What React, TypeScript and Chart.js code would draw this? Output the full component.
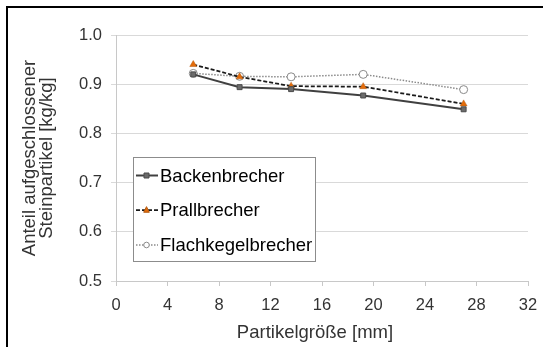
import React, { useEffect, useRef } from "react";
import { Chart, registerables } from "chart.js";

Chart.register(...registerables);

const xValues = [6, 9.6, 13.6, 19.2, 27];
const backenbrecher = [0.92, 0.894, 0.89, 0.877, 0.849];
const prallbrecher = [0.94, 0.915, 0.896, 0.895, 0.86];
const flachkegelbrecher = [0.922, 0.916, 0.915, 0.92, 0.889];
const seriesNames = ["Backenbrecher", "Prallbrecher", "Flachkegelbrecher"];
const yTitle = ["Anteil aufgeschlossener", "Steinpartikel [kg/kg]"];
const xTitle = "Partikelgröße [mm]";

const FONT = "'Liberation Sans', Arial, sans-serif";

function drawMarker(ctx: CanvasRenderingContext2D, style: string, x: number, y: number, r: number, fill: string, stroke: string) {
  ctx.save();
  ctx.fillStyle = fill;
  ctx.strokeStyle = stroke;
  ctx.lineWidth = 1;
  ctx.setLineDash([]);
  ctx.beginPath();
  if (style === "rect") {
    ctx.rect(x - r, y - r, 2 * r, 2 * r);
  } else if (style === "triangle") {
    ctx.moveTo(x, y - r * 1.2);
    ctx.lineTo(x + r, y + r * 0.8);
    ctx.lineTo(x - r, y + r * 0.8);
    ctx.closePath();
  } else {
    ctx.arc(x, y, r, 0, Math.PI * 2);
  }
  ctx.fill();
  ctx.stroke();
  ctx.restore();
}

const framePlugin = {
  id: "frameAndLegend",
  afterDraw(chart: any) {
    const ctx: CanvasRenderingContext2D = chart.ctx;
    const area = chart.chartArea;
    ctx.save();
    ctx.fillStyle = "#000";
    ctx.fillRect(6, 6, chart.width - 6, 2);
    ctx.fillRect(6, 6, 2, chart.height - 6);

    // axis titles
    ctx.fillStyle = "#333";
    ctx.textAlign = "center";
    ctx.font = `18.5px ${FONT}`;
    ctx.textBaseline = "alphabetic";
    ctx.fillText(xTitle, 315, 338);
    ctx.save();
    const cy = (area.top + area.bottom) / 2;
    ctx.font = `18.5px ${FONT}`;
    ctx.textBaseline = "middle";
    [30, 47].forEach((x, i) => {
      ctx.save();
      ctx.translate(x, cy);
      ctx.rotate(-Math.PI / 2);
      ctx.fillText(yTitle[i], 0, 0);
      ctx.restore();
    });
    ctx.restore();

    // legend
    const bx = 133.5, by = 157.5, bw = 182, bh = 104;
    ctx.fillStyle = "#fff";
    ctx.fillRect(bx, by, bw, bh);
    ctx.strokeStyle = "#8c8c8c";
    ctx.lineWidth = 1;
    ctx.strokeRect(bx, by, bw, bh);
    const ys = [175.5, 210, 245];
    chart.data.datasets.forEach((ds: any, i: number) => {
      const y = ys[i];
      ctx.save();
      ctx.strokeStyle = ds.borderColor;
      ctx.lineWidth = ds.borderWidth;
      ctx.setLineDash(ds.borderDash || []);
      ctx.beginPath();
      ctx.moveTo(136, y);
      ctx.lineTo(158, y);
      ctx.stroke();
      ctx.restore();
      drawMarker(ctx, ds.pointStyle, 146.5, y, i === 0 ? 2.5 : 2.8, ds.pointBackgroundColor, ds.pointBorderColor);
      ctx.fillStyle = "#000";
      ctx.font = `18.5px ${FONT}`;
      ctx.textBaseline = "middle";
      ctx.textAlign = "left";
      ctx.fillText(ds.label, 160, y + 1);
    });
    ctx.restore();
  },
};

export default function App() {
  const ref = useRef<HTMLCanvasElement | null>(null);
  useEffect(() => {
    if (!ref.current) return;
    const mk = (arr: number[]) => xValues.map((x, i) => ({ x, y: arr[i] }));
    const chart = new Chart(ref.current, {
      type: "line",
      data: {
        datasets: [
          {
            label: seriesNames[0],
            data: mk(backenbrecher),
            borderColor: "#404040",
            borderWidth: 2,
            pointStyle: "rect",
            pointRadius: 3.5,
            pointBackgroundColor: "#6b6b6b",
            pointBorderColor: "#4a4a4a",
            pointBorderWidth: 1,
            tension: 0,
          },
          {
            label: seriesNames[1],
            data: mk(prallbrecher),
            borderColor: "#1a1a1a",
            borderWidth: 1.75,
            borderDash: [4, 2],
            pointStyle: "triangle",
            pointRadius: 4,
            pointBackgroundColor: "#e46c0a",
            pointBorderColor: "#b35a10",
            pointBorderWidth: 0.5,
            tension: 0,
          },
          {
            label: seriesNames[2],
            data: mk(flachkegelbrecher),
            borderColor: "#8a8a8a",
            borderWidth: 1.5,
            borderDash: [1.5, 1.5],
            pointStyle: "circle",
            pointRadius: 4,
            pointBackgroundColor: "#ffffff",
            pointBorderColor: "#8a8a8a",
            pointBorderWidth: 1,
            tension: 0,
          },
        ],
      },
      options: {
        animation: false,
        responsive: false,
        devicePixelRatio: 1,
        layout: { padding: { left: 0, top: 35, right: 15, bottom: 0 } },
        plugins: { legend: { display: false }, tooltip: { enabled: false } },
        scales: {
          x: {
            type: "linear",
            min: 0,
            max: 32,
            afterFit: (s: any) => { s.height = 66; s.paddingLeft = 0; s.paddingRight = 0; },
            ticks: { stepSize: 4, color: "#333", font: { family: FONT, size: 16.5 }, padding: 10, maxRotation: 0 },
            grid: { drawOnChartArea: false, drawTicks: true, tickLength: 5, color: "#c8c8c8" },
            border: { color: "#c8c8c8", width: 1 },
          },
          y: {
            min: 0.5,
            max: 1.0,
            afterFit: (s: any) => { s.width = 116; s.paddingTop = 0; s.paddingBottom = 0; },
            ticks: { stepSize: 0.1, color: "#333", font: { family: FONT, size: 16.5 }, padding: 9, callback: (v: any) => Number(v).toFixed(1) },
            grid: { drawTicks: true, tickLength: 5, color: "#d9d9d9" },
            border: { color: "#c8c8c8", width: 1 },
          },
        },
      },
      plugins: [framePlugin],
    });
    return () => chart.destroy();
  }, []);
  return (
    <div style={{ position: "fixed", left: 0, top: 0, width: 543, height: 347, background: "#fff" }}>
      <canvas ref={ref} width={543} height={347} style={{ display: "block" }} />
    </div>
  );
}
